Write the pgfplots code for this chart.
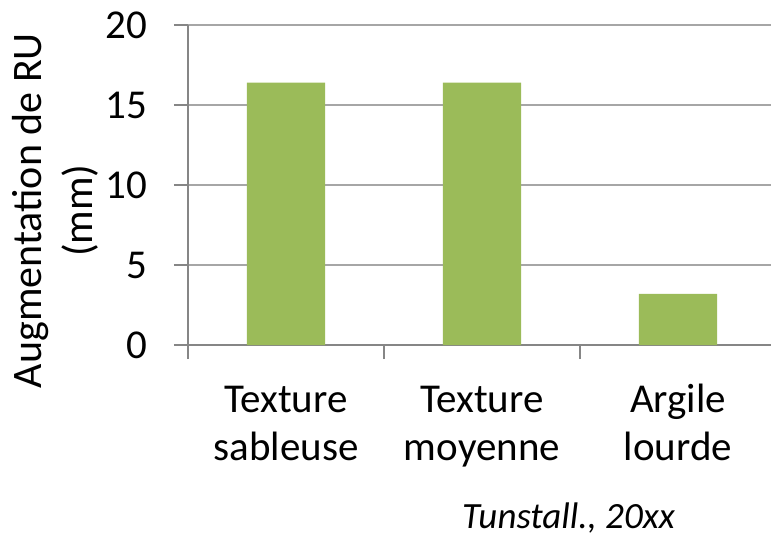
\documentclass[border=0pt]{standalone}
\usepackage{pgfplots}
\pgfplotsset{compat=1.18}
\usetikzlibrary{calc}
\usepackage{fontspec}
\setmainfont{Carlito}
\definecolor{barg}{HTML}{9BBB59}
\definecolor{gridg}{HTML}{A6A6A6}
\definecolor{axg}{HTML}{868686}
\begin{document}
\fontsize{41}{48}\selectfont
\begin{tikzpicture}
\begin{axis}[
  scale only axis, width=583pt, height=320pt,
  xmin=-0.5, xmax=2.4745, ymin=0, ymax=20,
  axis lines*=left,
  axis line style={axg, line width=1.5pt},
  ytick={0,5,10,15,20},
  ymajorgrids, grid style={gridg, line width=1.5pt},
  tick align=outside, major tick length=14pt,
  tick style={axg, line width=1.5pt},
  xtick={-0.5,0.5,1.5,2.5}, xticklabels={},
  extra x ticks={0,1,2},
  extra x tick labels={{\vphantom{Al}Texture\\sableuse},{\vphantom{Al}Texture\\moyenne},{\vphantom{Al}Argile\\lourde}},
  extra x tick style={major tick length=0pt},
  xticklabel style={align=center, font=\fontsize{41}{48}\selectfont, yshift=-25pt},
  yticklabel style={font=\fontsize{41}{48}\selectfont, xshift=-13pt},
  /pgf/number format/assume math mode=true,
  ylabel={Augmentation de RU\\(mm)},
  ylabel style={align=center, font=\fontsize{42}{51}\selectfont, at={(rel axis cs:0,0.42)}, anchor=center, yshift=133pt},
  clip=false,
]
\addplot[ybar, bar width=0.4, fill=barg, draw=none] coordinates {(0,16.4) (1,16.4) (2,3.2)};
\coordinate (O) at (rel axis cs:0,0);
\end{axis}
\node[anchor=base west, font=\itshape\fontsize{37}{43}\selectfont, inner sep=0pt] at ($(O)+(274pt,-183pt)$) {Tunstall., 20xx};
\pgfresetboundingbox
\path[use as bounding box] ($(O)+(-188pt,-191pt)$) rectangle ++(771pt,536pt);
\end{tikzpicture}
\end{document}
